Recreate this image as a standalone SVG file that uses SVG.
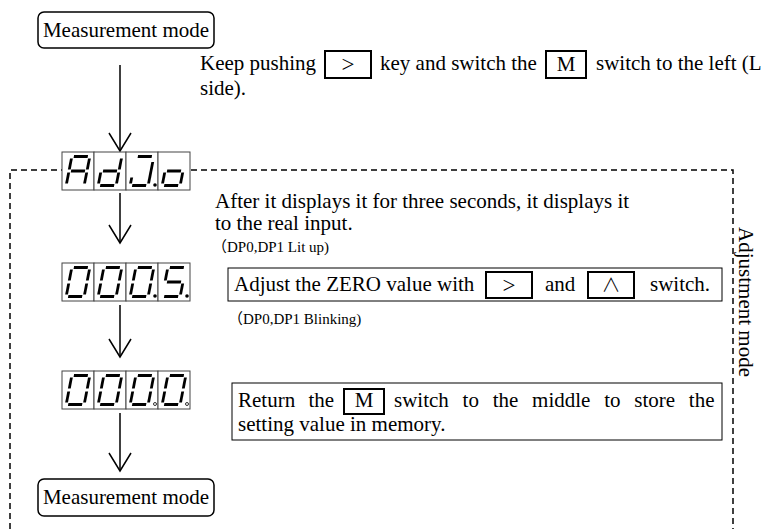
<svg xmlns="http://www.w3.org/2000/svg" width="766" height="529" viewBox="0 0 766 529">
  <defs>
    <style>
      .txt { font-family: "Liberation Serif", "Times New Roman", serif; font-size: 21px; fill: #000; }
      .gt { font-family: "Liberation Serif", "Times New Roman", serif; font-size: 23px; fill: #000; }
      .sym { font-family: "Noto Sans CJK JP", "DejaVu Sans", sans-serif; font-size: 19px; font-weight: 300; fill: #000; }
      .small { font-family: "Liberation Serif", "Noto Sans CJK JP", serif; font-size: 15px; fill: #000; }
      .mode { fill: #fff; stroke: #000; stroke-width: 1.5; }
      .key { fill: none; stroke: #000; stroke-width: 2; }
      .frame { fill: #fff; stroke: #000; stroke-width: 1; }
      .cell { fill: #fff; stroke: #444; stroke-width: 1; }
      .seg { fill: none; stroke: #000; stroke-width: 2.8; stroke-linecap: butt; }
      .dash { fill: none; stroke: #000; stroke-width: 1.5; stroke-dasharray: 6 4; }
      .conn { fill: none; stroke: #000; stroke-width: 1.5; marker-end: url(#vhead); }
    </style>
    <marker id="vhead" markerUnits="userSpaceOnUse" viewBox="-20 -13 22 26" refX="0" refY="0" markerWidth="22" markerHeight="26" orient="auto">
      <path d="M-18,-11 L0,0 L-18,11" fill="none" stroke="#000" stroke-width="1.5"/>
    </marker>
    <!-- seven-segment pieces, cell-local coordinates (32 x 38) -->
    <path id="sa" d="M9,4.5 H23"/>
    <path id="sb" d="M25,6.5 V17.5"/>
    <path id="sc" d="M25,20.5 V31.5"/>
    <path id="sd" d="M9,33.5 H23"/>
    <path id="se" d="M7,20.5 V31.5"/>
    <path id="sf" d="M7,6.5 V17.5"/>
    <path id="sg" d="M9,19 H23"/>
  </defs>

  <!-- adjustment mode frame -->
  <path class="dash" d="M10,529 V170 H733 V529"/>
  <text class="txt" font-size="18.5" transform="translate(739,302) rotate(90)" text-anchor="middle">Adjustment mode</text>

  <!-- connectors -->
  <g id="connectors">
    <line class="conn" x1="120" y1="65" x2="120" y2="151"/>
    <line class="conn" x1="120" y1="193" x2="120" y2="243"/>
    <line class="conn" x1="120" y1="305" x2="120" y2="357"/>
    <line class="conn" x1="120" y1="413" x2="120" y2="471"/>
  </g>

  <!-- start state -->
  <g id="measure-top">
    <rect class="mode" x="38" y="12" width="176" height="36" rx="6"/>
    <text class="txt" x="126" y="37" text-anchor="middle">Measurement mode</text>
  </g>

  <!-- entry instruction -->
  <g id="entry-note">
    <text class="txt" x="200" y="70">Keep pushing</text>
    <rect class="key" x="325" y="51" width="46" height="27"/>
    <text class="gt" x="348" y="72" text-anchor="middle">&gt;</text>
    <text class="txt" x="380" y="70">key and switch the</text>
    <rect class="key" x="546" y="51" width="40" height="27"/>
    <text class="txt" x="566" y="71" text-anchor="middle">M</text>
    <text class="txt" x="596" y="70">switch to the left (L</text>
    <text class="txt" x="200" y="95">side).</text>
  </g>

  <!-- display: AdJ.o -->
  <g id="disp-adjo" class="seg">
    <rect class="cell" x="62" y="152" width="32" height="38"/>
    <rect class="cell" x="94" y="152" width="32" height="38"/>
    <rect class="cell" x="126" y="152" width="32" height="38"/>
    <rect class="cell" x="158" y="152" width="32" height="38"/>
    <g transform="translate(62,152) translate(16,19) skewX(-11) translate(-16,-19)">
      <use href="#sa"/><use href="#sb"/><use href="#sc"/><use href="#se"/><use href="#sf"/><use href="#sg"/>
    </g>
    <g transform="translate(94,152) translate(16,19) skewX(-11) translate(-16,-19)">
      <use href="#sb"/><use href="#sc"/><use href="#sd"/><use href="#se"/><use href="#sg"/>
    </g>
    <g transform="translate(126,152) translate(16,19) skewX(-11) translate(-16,-19)">
      <use href="#sa"/><path d="M25,10 V31.5"/><use href="#sd"/><path d="M7,25.5 V31.5"/>
    </g>
    <circle cx="155" cy="185" r="1.8" fill="#000" stroke="none"/>
    <g transform="translate(158,152) translate(16,19) skewX(-11) translate(-16,-19)">
      <use href="#sc"/><use href="#sd"/><use href="#se"/><use href="#sg"/>
    </g>
  </g>

  <g id="note-start">
    <text class="txt" x="215" y="208">After it displays it for three seconds, it displays it</text>
    <text class="txt" x="215" y="230">to the real input.</text>
    <text class="small" x="212" y="252">（DP0,DP1 Lit up)</text>
  </g>

  <!-- display: 000.5. -->
  <g id="disp-0005" class="seg">
    <rect class="cell" x="62" y="263" width="32" height="38"/>
    <rect class="cell" x="94" y="263" width="32" height="38"/>
    <rect class="cell" x="126" y="263" width="32" height="38"/>
    <rect class="cell" x="158" y="263" width="32" height="38"/>
    <g transform="translate(62,263) translate(16,19) skewX(-11) translate(-16,-19)">
      <use href="#sa"/><use href="#sb"/><use href="#sc"/><use href="#sd"/><use href="#se"/><use href="#sf"/>
    </g>
    <g transform="translate(94,263) translate(16,19) skewX(-11) translate(-16,-19)">
      <use href="#sa"/><use href="#sb"/><use href="#sc"/><use href="#sd"/><use href="#se"/><use href="#sf"/>
    </g>
    <g transform="translate(126,263) translate(16,19) skewX(-11) translate(-16,-19)">
      <use href="#sa"/><use href="#sb"/><use href="#sc"/><use href="#sd"/><use href="#se"/><use href="#sf"/>
    </g>
    <circle cx="155" cy="296" r="1.8" fill="#000" stroke="none"/>
    <g transform="translate(158,263) translate(16,19) skewX(-11) translate(-16,-19)">
      <use href="#sa"/><use href="#sc"/><use href="#sd"/><use href="#sf"/><use href="#sg"/>
    </g>
    <circle cx="187" cy="296" r="1.8" fill="#000" stroke="none"/>
  </g>

  <g id="note-zero">
    <rect class="frame" x="228" y="268" width="494" height="33"/>
    <text class="txt" x="234" y="291">Adjust the ZERO value with</text>
    <rect class="key" x="486" y="272" width="46" height="26"/>
    <text class="gt" x="509" y="293" text-anchor="middle">&gt;</text>
    <text class="txt" x="545" y="291">and</text>
    <rect class="key" x="588" y="272" width="46" height="26"/>
    <text class="sym" x="611" y="292" text-anchor="middle">∧</text>
    <text class="txt" x="650" y="291">switch.</text>
    <text class="small" x="228" y="324">（DP0,DP1 Blinking)</text>
  </g>

  <!-- display: 000.0. (points off) -->
  <g id="disp-0000" class="seg">
    <rect class="cell" x="62" y="371" width="32" height="38"/>
    <rect class="cell" x="94" y="371" width="32" height="38"/>
    <rect class="cell" x="126" y="371" width="32" height="38"/>
    <rect class="cell" x="158" y="371" width="32" height="38"/>
    <g transform="translate(62,371) translate(16,19) skewX(-11) translate(-16,-19)">
      <use href="#sa"/><use href="#sb"/><use href="#sc"/><use href="#sd"/><use href="#se"/><use href="#sf"/>
    </g>
    <g transform="translate(94,371) translate(16,19) skewX(-11) translate(-16,-19)">
      <use href="#sa"/><use href="#sb"/><use href="#sc"/><use href="#sd"/><use href="#se"/><use href="#sf"/>
    </g>
    <g transform="translate(126,371) translate(16,19) skewX(-11) translate(-16,-19)">
      <use href="#sa"/><use href="#sb"/><use href="#sc"/><use href="#sd"/><use href="#se"/><use href="#sf"/>
    </g>
    <circle cx="155" cy="404" r="1.5" fill="none" stroke="#000" stroke-width="0.8"/>
    <g transform="translate(158,371) translate(16,19) skewX(-11) translate(-16,-19)">
      <use href="#sa"/><use href="#sb"/><use href="#sc"/><use href="#sd"/><use href="#se"/><use href="#sf"/>
    </g>
    <circle cx="187" cy="404" r="1.5" fill="none" stroke="#000" stroke-width="0.8"/>
  </g>

  <g id="note-store">
    <rect class="frame" x="232" y="383" width="490" height="57"/>
    <text class="txt" x="238" y="407" word-spacing="8">Return the</text>
    <rect class="key" x="344" y="389" width="40" height="25"/>
    <text class="txt" x="364" y="407" text-anchor="middle">M</text>
    <text class="txt" x="394" y="407" word-spacing="8.5">switch to the middle to store the</text>
    <text class="txt" x="238" y="431">setting value in memory.</text>
  </g>

  <!-- end state -->
  <g id="measure-end">
    <rect class="mode" x="38" y="479" width="176" height="37" rx="6"/>
    <text class="txt" x="126" y="504" text-anchor="middle">Measurement mode</text>
  </g>
</svg>
